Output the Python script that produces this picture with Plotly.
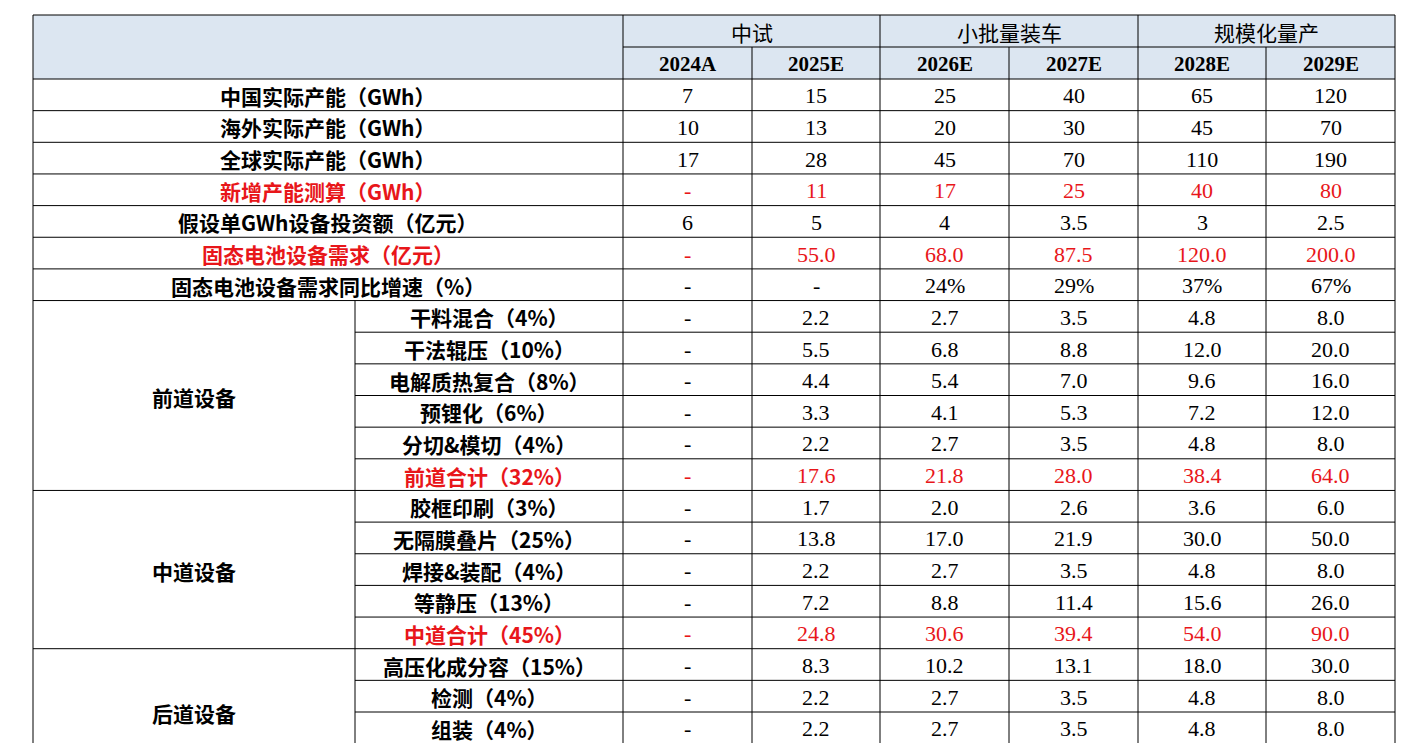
import plotly.graph_objects as go

phases = ["中试", "小批量装车", "规模化量产"]
years = ["2024A", "2025E", "2026E", "2027E", "2028E", "2029E"]

top_labels = ["中国实际产能（GWh）", "海外实际产能（GWh）", "全球实际产能（GWh）", "新增产能测算（GWh）",
              "假设单GWh设备投资额（亿元）", "固态电池设备需求（亿元）", "固态电池设备需求同比增速（%）"]
top_red = [False, False, False, True, False, True, False]
top_vals = [
    ["7", "15", "25", "40", "65", "120"],
    ["10", "13", "20", "30", "45", "70"],
    ["17", "28", "45", "70", "110", "190"],
    ["-", "11", "17", "25", "40", "80"],
    ["6", "5", "4", "3.5", "3", "2.5"],
    ["-", "55.0", "68.0", "87.5", "120.0", "200.0"],
    ["-", "-", "24%", "29%", "37%", "67%"],
]

groups = ["前道设备", "中道设备", "后道设备"]
group_spans = [6, 5, 4]
sub_labels = ["干料混合（4%）", "干法辊压（10%）", "电解质热复合（8%）", "预锂化（6%）", "分切&模切（4%）", "前道合计（32%）",
              "胶框印刷（3%）", "无隔膜叠片（25%）", "焊接&装配（4%）", "等静压（13%）", "中道合计（45%）",
              "高压化成分容（15%）", "检测（4%）", "组装（4%）"]
sub_red = [False]*5 + [True] + [False]*4 + [True] + [False]*3
sub_vals = [
    ["-", "2.2", "2.7", "3.5", "4.8", "8.0"],
    ["-", "5.5", "6.8", "8.8", "12.0", "20.0"],
    ["-", "4.4", "5.4", "7.0", "9.6", "16.0"],
    ["-", "3.3", "4.1", "5.3", "7.2", "12.0"],
    ["-", "2.2", "2.7", "3.5", "4.8", "8.0"],
    ["-", "17.6", "21.8", "28.0", "38.4", "64.0"],
    ["-", "1.7", "2.0", "2.6", "3.6", "6.0"],
    ["-", "13.8", "17.0", "21.9", "30.0", "50.0"],
    ["-", "2.2", "2.7", "3.5", "4.8", "8.0"],
    ["-", "7.2", "8.8", "11.4", "15.6", "26.0"],
    ["-", "24.8", "30.6", "39.4", "54.0", "90.0"],
    ["-", "8.3", "10.2", "13.1", "18.0", "30.0"],
    ["-", "2.2", "2.7", "3.5", "4.8", "8.0"],
    ["-", "2.2", "2.7", "3.5", "4.8", "8.0"],
]

W, H = 1413, 743
OFF = 8  # page body margin
L, R, T = 33 - OFF, 1395 - OFF, 15 - OFF
colx = [c - OFF for c in [623, 752, 880, 1009, 1138, 1266, 1395]]
subx = 355 - OFF
h1, h2 = 47 - OFF, 79 - OFF
rh = 31.65
RED = "#e8161a"
HDR = "#dce6f1"
CJK = "Noto Sans CJK SC"
SERIF = "Liberation Serif"

shapes, ann = [], []
def line(x0, y0, x1, y1):
    shapes.append(dict(type="line", x0=x0, y0=y0, x1=x1, y1=y1, line=dict(color="black", width=1)))
def text(x, y, s, color="black", font=CJK, size=21, bold=False):
    ann.append(dict(x=x, y=y, text=f"<b>{s}</b>" if bold else s, showarrow=False, xanchor="center",
                    yanchor="middle", font=dict(family=font, size=size, color=color)))

shapes.append(dict(type="rect", x0=L, y0=T, x1=R, y1=h2, fillcolor=HDR, line=dict(width=0), layer="below"))
line(L, T, R, T); line(colx[0], h1, R, h1); line(L, h2, R, h2)
for i, p in enumerate(phases):
    text((colx[2*i]+colx[2*i+2])/2, (T+h1)/2+1, p, size=21)
for i, y in enumerate(years):
    text((colx[i]+colx[i+1])/2, (h1+h2)/2+1, y, font=SERIF, size=21, bold=True)

y = h2
for lab, red, vals in zip(top_labels, top_red, top_vals):
    c = RED if red else "black"
    text((L+colx[0])/2, y+rh/2+1, lab, color=c, size=21, bold=True)
    for j, v in enumerate(vals):
        text((colx[j]+colx[j+1])/2, y+rh/2+1, v, color=c, font=SERIF, size=22)
    y += rh
    line(L, y, R, y)

k = 0
for g, span in zip(groups, group_spans):
    gy0 = y
    text((L+subx)/2, gy0+span*rh/2+1, g, size=21, bold=True)
    for _ in range(span):
        if k >= len(sub_labels):
            break
        c = RED if sub_red[k] else "black"
        text((subx+colx[0])/2, y+rh/2+1, sub_labels[k], color=c, size=21, bold=True)
        for j, v in enumerate(sub_vals[k]):
            text((colx[j]+colx[j+1])/2, y+rh/2+1, v, color=c, font=SERIF, size=22)
        y += rh
        k += 1
        line(subx, y, R, y)
    line(L, y, subx, y)

bottom = max(y, H)
line(L, T, L, bottom); line(R, T, R, bottom)
for x in colx[:-1]:
    line(x, h1 if x in (colx[1], colx[3], colx[5]) else T, x, bottom)
line(subx, h2 + 7*rh, subx, bottom)

fig = go.Figure()
fig.update_layout(width=W, height=H, margin=dict(l=0, r=0, t=0, b=0), plot_bgcolor="white", paper_bgcolor="white",
                  xaxis=dict(range=[0, W], visible=False, fixedrange=True),
                  yaxis=dict(range=[H, 0], visible=False, fixedrange=True),
                  shapes=shapes, annotations=ann, showlegend=False)
fig.write_html("out.html")
